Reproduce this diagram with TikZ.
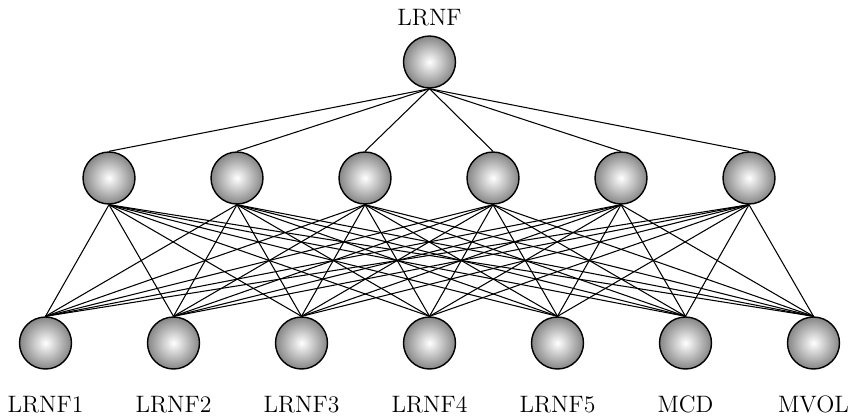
\documentclass[tikz,border=0pt]{standalone}
\usepackage{tikz}
\usepackage{xcolor}
\usetikzlibrary{positioning,shadings}

\tikzset{
  neuron/.style={circle, draw, line width=0.8pt, minimum size=1.04cm, inner sep=0pt,
    shading=radial, inner color=white, outer color=gray!95},
  lbl/.style={font=\fontsize{13.5}{16}\selectfont},
  link/.style={line width=0.6pt}
}

\begin{document}
\begin{tikzpicture}[x=0.02cm, y=0.02cm]
\useasboundingbox (0,0) rectangle (852,417);

% output layer
\node[neuron] (out) at (429.5,355) {};
\node[lbl] (outlbl) at (429.5,399) {LRNF};

% hidden layer
\foreach \j in {1,...,6}
  \node[neuron] (h\j) at ({109+128*(\j-1)},239) {};

% input layer
\foreach \i/\t in {1/LRNF1,2/LRNF2,3/LRNF3,4/LRNF4,5/LRNF5,6/MCD,7/MVOL}
{
  \node[neuron] (in\i) at ({45.5+128*(\i-1)},74) {};
  \node[lbl] (lbl\i) at ({45.5+128*(\i-1)},12.5) {\t};
}

% connections
\foreach \j in {1,...,6}
{
  \draw[link] (out.south) -- (h\j.north);
  \foreach \i in {1,...,7}
    \draw[link] (h\j.south) -- (in\i.north);
}
\end{tikzpicture}
\end{document}
